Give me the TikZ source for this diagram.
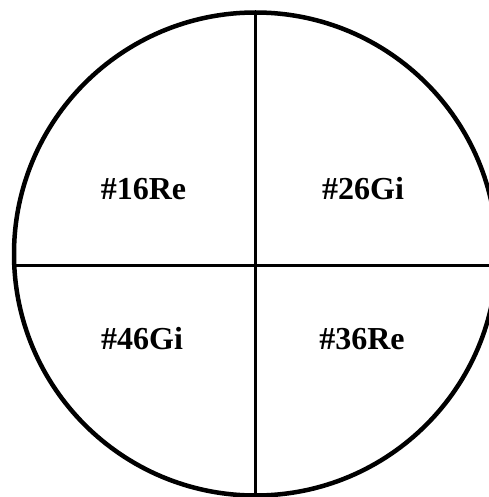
\documentclass[tikz,border=0pt]{standalone}
\usepackage{fontspec}
\setmainfont{Liberation Serif}
\begin{document}
\begin{tikzpicture}[x=1pt,y=-1pt,
  lbl/.style={font=\bfseries\fontsize{32}{36}\selectfont, inner sep=0pt},
  divider/.style={line width=3pt}]
\useasboundingbox (0,0) rectangle (488,497);
\node[draw, circle, line width=4.5pt, minimum size=483pt, inner sep=0pt] (c) at (255.5,254) {};
\coordinate (vt) at (255.5,13);
\coordinate (vb) at (255.5,495);
\coordinate (hl) at (14.5,265.5);
\coordinate (hr) at (497,265.5);
\draw[divider] (vt) -- (vb);
\draw[divider] (hl) -- (hr);
\node[lbl] (q1) at (143.5,189) {\#16Re};
\node[lbl] (q2) at (363,189) {\#26Gi};
\node[lbl] (q4) at (142,339) {\#46Gi};
\node[lbl] (q3) at (362,339) {\#36Re};
\end{tikzpicture}
\end{document}
